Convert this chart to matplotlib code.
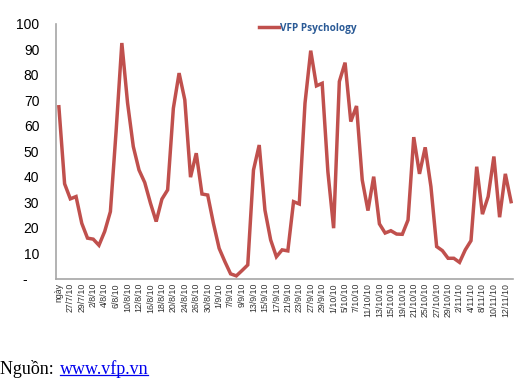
import matplotlib
matplotlib.use("Agg")
import matplotlib.pyplot as plt
import numpy as np

# daily VFP psychology index, 80 sessions
values = [67.5, 37.3, 31.4, 32.3, 21.8, 16.0, 15.6, 13.2, 18.6, 26.4,
          58.0, 92.5, 69.0, 51.9, 42.7, 37.8, 29.7, 22.5, 31.3, 34.9,
          66.9, 80.7, 70.2, 39.9, 49.3, 33.3, 32.9, 21.8, 12.0, 6.8,
          2.0, 1.2, 3.3, 5.5, 42.7, 52.5, 27.0, 15.3, 8.7, 11.4,
          11.0, 30.3, 29.4, 68.9, 89.5, 75.7, 76.7, 42.0, 19.9, 77.4,
          84.8, 61.7, 67.8, 38.8, 26.8, 40.1, 21.6, 18.0, 18.9, 17.6,
          17.5, 23.1, 55.6, 41.2, 51.6, 36.2, 12.7, 11.1, 8.1, 8.1,
          6.5, 11.4, 15.0, 44.0, 25.4, 32.3, 48.0, 24.2, 41.2, 30.3]

# only every other date is labelled on the axis
date_labels = ["ngày", "27/7/10", "29/7/10", "2/8/10", "4/8/10", "6/8/10",
               "10/8/10", "12/8/10", "16/8/10", "18/8/10", "20/8/10",
               "24/8/10", "26/8/10", "30/8/10", "1/9/10", "7/9/10", "9/9/10",
               "13/9/10", "15/9/10", "17/9/10", "21/9/10", "23/9/10",
               "27/9/10", "29/9/10", "1/10/10", "5/10/10", "7/10/10",
               "11/10/10", "13/10/10", "15/10/10", "19/10/10", "21/10/10",
               "25/10/10", "27/10/10", "29/10/10", "2/11/10", "4/11/10",
               "8/11/10", "10/11/10", "12/11/10"]

y_ticks = list(range(0, 101, 10))
y_labels = ["-   "] + [str(v) for v in y_ticks[1:]]

fig = plt.figure(figsize=(5.27, 3.79), dpi=100)
ax = fig.add_axes([0.1063, 0.264, 0.8667, 0.673])

x = np.arange(len(values))
ax.plot(x, values, color="#C0504D", lw=2.5, solid_joinstyle="miter",
        label="VFP Psychology")

ax.set_xlim(-0.5, len(values) - 0.7)
ax.set_ylim(0, 100)
ax.set_yticks(y_ticks)
ax.set_yticklabels(y_labels, fontsize=10, family="Liberation Sans")
ax.set_xticks(x[::2])
ax.set_xticklabels(date_labels, rotation=90, fontsize=6.3,
                   family="Liberation Sans", color="#333333")
ax.tick_params(axis="y", length=0, pad=12)
ax.tick_params(axis="x", length=0, pad=3)

for side in ["top", "right"]:
    ax.spines[side].set_visible(False)
for side in ["left", "bottom"]:
    ax.spines[side].set_color("#A6A6A6")
    ax.spines[side].set_linewidth(1.2)

leg = ax.legend(loc="upper left", bbox_to_anchor=(0.425, 1.04), frameon=False,
                handlelength=2.0, handletextpad=0.1,
                prop={"family": "Open Sans", "weight": "bold", "size": 7.2})
for t in leg.get_texts():
    t.set_color("#2A5A96")

src = fig.text(0.0, 0.013, "Nguồn: ", family="Liberation Serif", fontsize=13)
link = fig.text(0.113, 0.013, "www.vfp.vn", family="Liberation Serif",
                fontsize=13, color="#0000EE")
fig.canvas.draw()
bb = link.get_window_extent().transformed(fig.transFigure.inverted())
fig.add_artist(plt.Line2D([bb.x0, bb.x1], [0.010, 0.010], color="#0000EE",
                          lw=0.9, transform=fig.transFigure))

fig.savefig("out.png", dpi=100)
